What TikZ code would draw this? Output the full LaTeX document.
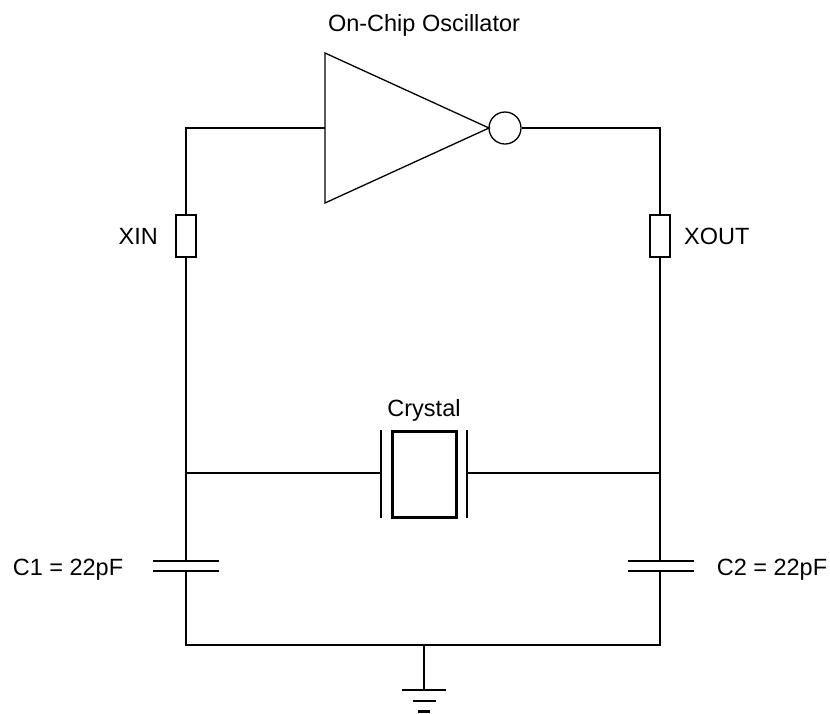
\documentclass[tikz,border=0pt]{standalone}
\usepackage{fontspec}
\setmainfont{Liberation Sans}
\begin{document}
\begin{tikzpicture}[x=1pt,y=-1pt,
  wire/.style={line width=2pt},
  gate/.style={line width=1.3pt},
  plate/.style={line width=2.4pt},
  lbl/.style={font=\fontsize{23.5}{28}\selectfont, inner sep=0pt},
  res/.style={draw, line width=2.2pt, minimum width=20pt, minimum height=42pt, inner sep=0pt},
  xbox/.style={draw, line width=2.2pt, minimum width=64pt, minimum height=86pt, inner sep=0pt}]
\useasboundingbox (0,0) rectangle (830,713);
% named points
\coordinate (tl) at (186,128);
\coordinate (tr) at (660,128);
\coordinate (ml) at (186,473);
\coordinate (mr) at (660,473);
\coordinate (bl) at (186,645);
\coordinate (br) at (660,645);
\coordinate (gnd) at (424,645);
\coordinate (gb) at (424,690);
\coordinate (inA) at (325,128);
\coordinate (c1a) at (186,561);
\coordinate (c1b) at (186,571);
\coordinate (c2a) at (660,561);
\coordinate (c2b) at (660,571);
\coordinate (xl) at (381,473);
\coordinate (xr) at (467,473);
% inverter
\draw[gate] (325,53) -- (325,203) -- (489,128) -- cycle;
\node[draw, circle, gate, minimum size=32pt, inner sep=0pt] (bub) at (505,128) {};
% resistors
\node[res] (rxin) at (186,236) {};
\node[res] (rxout) at (660,236) {};
% crystal
\node[xbox] (xtal) at (424.5,474.5) {};
\draw[plate] (381,430) -- (381,518);
\draw[plate] (467,430) -- (467,518);
% wires
\draw[wire] (inA) -- (tl) -- (rxin.north);
\draw[wire] (bub.east) -- (tr) -- (rxout.north);
\draw[wire] (rxin.south) -- (c1a);
\draw[wire] (rxout.south) -- (c2a);
\draw[wire] (ml) -- (xl);
\draw[wire] (xr) -- (mr);
\draw[wire] (c1b) -- (bl) -- (br) -- (c2b);
\draw[wire] (gnd) -- (gb);
% capacitors
\draw[plate] (153,561) -- (219,561);
\draw[plate] (153,571) -- (219,571);
\draw[plate] (628,561) -- (694,561);
\draw[plate] (628,571) -- (694,571);
% ground
\draw[plate] (402,690) -- (446,690);
\draw[plate] (413,701) -- (436,701);
\draw[plate] (418,711.5) -- (430,711.5);
% labels
\node[lbl, anchor=base] (title) at (424,31) {On-Chip Oscillator};
\node[lbl, anchor=base east] (xinl) at (158,244) {XIN};
\node[lbl, anchor=base west] (xoutl) at (684,244) {XOUT};
\node[lbl, anchor=base] (xtall) at (424,416) {Crystal};
\node[lbl, anchor=base] (c1l) at (68,575) {C1 = 22pF};
\node[lbl, anchor=base] (c2l) at (772,575) {C2 = 22pF};
\end{tikzpicture}
\end{document}
